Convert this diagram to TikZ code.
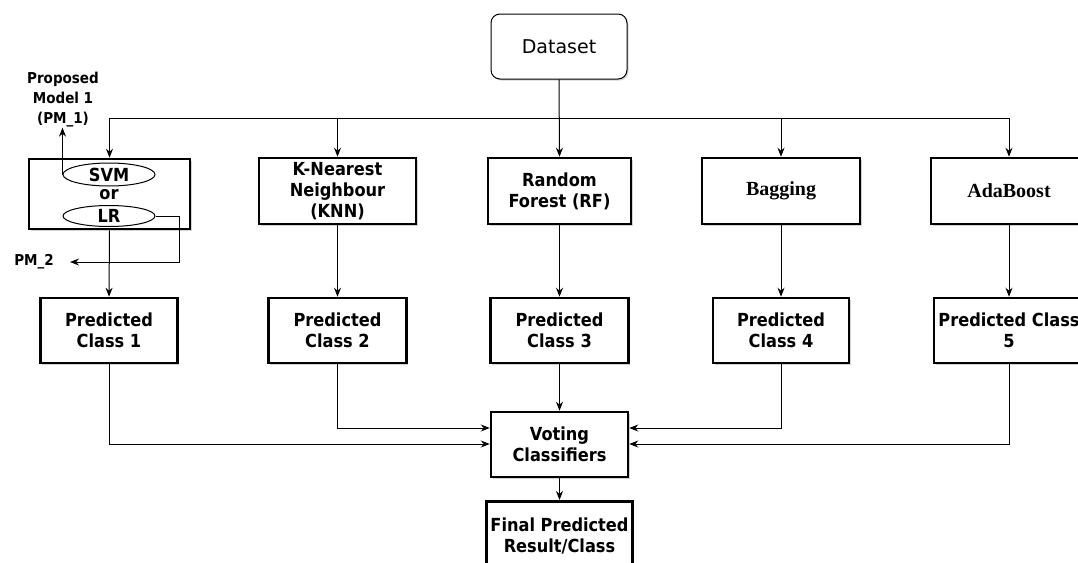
\documentclass[tikz,border=0pt]{standalone}
\usepackage{fontspec}
\usetikzlibrary{arrows.meta,shapes.geometric,shadows}
\newfontfamily\cnd{DejaVu Sans Condensed}
\newfontfamily\dvs{DejaVu Sans}
\newfontfamily\tms{Liberation Serif}
\begin{document}
\begin{tikzpicture}[x=1pt,y=-1pt,
  box/.style={draw, line width=2.5pt, fill=white, align=center, inner sep=0pt,
    font=\cnd\bfseries\fontsize{18}{21}\selectfont,
    drop shadow={shadow xshift=1.5pt, shadow yshift=-1.5pt, opacity=0.35, fill=gray}},
  sbox/.style={box, font=\tms\bfseries\fontsize{20}{22}\selectfont},
  oval/.style={draw, ellipse, line width=1pt, fill=white, inner sep=0pt,
    font=\cnd\bfseries\fontsize{18}{21}\selectfont},
  lbl/.style={align=center, inner sep=0pt, font=\cnd\bfseries\fontsize{15}{20}\selectfont},
  arr/.style={line width=1pt, -{Stealth[length=9pt,width=7pt]}}]
\useasboundingbox (0,0) rectangle (1078,562);

% top
\node[draw, line width=1pt, rounded corners=9pt, fill=white, minimum width=136pt, minimum height=65pt,
  font=\dvs\fontsize{19}{22}\selectfont,
  drop shadow={shadow xshift=1.5pt, shadow yshift=-1.5pt, opacity=0.35, fill=gray}] (ds) at (559,46.5) {Dataset};

% row 1
\node[box, minimum width=161pt, minimum height=70pt] (svmb) at (109.5,194) {};
\node[oval, minimum width=92pt, minimum height=23pt] (svm) at (109,174.5) {SVM};
\node[inner sep=0pt, font=\cnd\bfseries\fontsize{18}{21}\selectfont] (or) at (109,195) {or};
\node[oval, minimum width=92pt, minimum height=21pt] (lr) at (109,216) {LR};
\node[box, minimum width=157pt, minimum height=66pt] (knn) at (337.5,191) {K-Nearest\\Neighbour\\(KNN)};
\node[box, minimum width=143pt, minimum height=66pt] (rf) at (559.5,191) {Random\\Forest (RF)};
\node[sbox, minimum width=158pt, minimum height=66pt] (bag) at (781,191) {Bagging};
\node[sbox, minimum width=156pt, minimum height=66pt] (ada) at (1009,191) {AdaBoost};

% labels
\node[lbl] (pm1) at (63,100) {Proposed\\Model 1\\(PM\_1)};
\node[lbl, anchor=east] (pm2) at (54,262) {PM\_2};

% row 2
\node[box, minimum width=137pt, minimum height=65pt] (p1) at (109,330.5) {Predicted\\Class 1};
\node[box, minimum width=138pt, minimum height=65pt] (p2) at (337.5,330.5) {Predicted\\Class 2};
\node[box, minimum width=138pt, minimum height=65pt] (p3) at (559.5,330.5) {Predicted\\Class 3};
\node[box, minimum width=136pt, minimum height=65pt] (p4) at (781,330.5) {Predicted\\Class 4};
\node[box, minimum width=150pt, minimum height=65pt] (p5) at (1009,330.5) {Predicted Class\\5};

% bottom
\node[box, minimum width=137pt, minimum height=65pt] (vote) at (559.5,444.5) {Voting\\Classifiers};
\node[box, minimum width=146pt, minimum height=70pt, anchor=north] (fin) at (559.5,500) {Final Predicted\\Result/Class};

% connectors
\coordinate (bus) at (559.5,118);
\draw[arr] (ds.south) -- (rf.north);
\draw[arr] (bus) -| (svmb.north);
\draw[arr] (bus) -| (knn.north);
\draw[arr] (bus) -| (bag.north);
\draw[arr] (bus) -| (ada.north);

\draw[arr] (svm.west) -- (svm.west |- pm1.south);
\draw[arr] (lr.east) -- ++(24,0) |- ([xshift=16pt]pm2.east);

\draw[arr] (svmb.south) -- (p1.north);
\draw[arr] (knn.south) -- (p2.north);
\draw[arr] (rf.south) -- (p3.north);
\draw[arr] (bag.south) -- (p4.north);
\draw[arr] (ada.south) -- (p5.north);

\draw[arr] (p3.south) -- (vote.north);
\draw[arr] (p1.south) |- (vote.west |- 0,444);
\draw[arr] (p2.south) |- (vote.west |- 0,428);
\draw[arr] (p4.south) |- (vote.east |- 0,428);
\draw[arr] (p5.south) |- (vote.east |- 0,444);
\draw[arr] (vote.south) -- (fin.north);
\end{tikzpicture}
\end{document}
